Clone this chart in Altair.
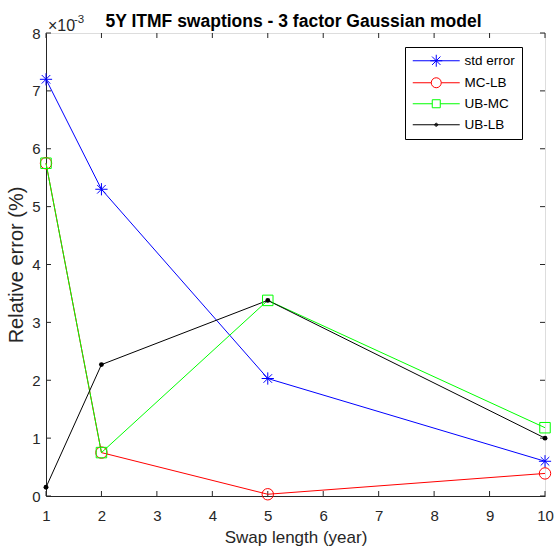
import altair as alt
import pandas as pd

# ---- data (y in absolute units, axis shows x1e-3) ----
swap_length = [1, 2, 5, 10]
series_names = ["std error", "MC-LB", "UB-MC", "UB-LB"]
std_error = [0.00720, 0.00530, 0.00203, 0.00060]
mc_lb = [0.00575, 0.00075, 0.00003, 0.00039]
ub_mc = [0.00575, 0.00075, 0.00338, 0.00118]
ub_lb = [0.00015, 0.00227, 0.00338, 0.00100]
x_ticks = [1, 2, 3, 4, 5, 6, 7, 8, 9, 10]
y_ticks = [0, 0.001, 0.002, 0.003, 0.004, 0.005, 0.006, 0.007, 0.008]
colors = ["#0000FF", "#FF0000", "#00FF00", "#000000"]

rows = []
for name, vals in zip(series_names, [std_error, mc_lb, ub_mc, ub_lb]):
    for x, y in zip(swap_length, vals):
        rows.append({"series": name, "legend_series": name, "x": x, "y": y})
df = pd.DataFrame(rows)

FONT = "Liberation Sans"
AX = "#262626"
W, H = 499, 463

xscale = alt.Scale(domain=[1, 10], nice=False, zero=False)
yscale = alt.Scale(domain=[0, 0.008], nice=False, zero=True)

x_enc = alt.X("x:Q", scale=xscale, axis=alt.Axis(
    values=x_ticks, format="d", title="Swap length (year)", tickSize=0, grid=False,
    labelFontSize=15, labelFont=FONT, labelColor=AX, labelPadding=12,
    titleFontSize=17, titleFont=FONT, titleColor=AX, titleFontWeight="normal",
    titlePadding=6, domainColor=AX, labelFlush=False))
y_enc = alt.Y("y:Q", scale=yscale, axis=alt.Axis(
    values=y_ticks, title="Relative error (%)", tickSize=0, grid=False,
    labelExpr="round(datum.value*1000)",
    labelFontSize=15, labelFont=FONT, labelColor=AX, labelPadding=6,
    titleFontSize=20, titleFont=FONT, titleColor=AX, titleFontWeight="normal",
    titlePadding=5, domainColor=AX))

color_scale = alt.Scale(domain=series_names, range=colors)

lines = alt.Chart(df).mark_line(strokeWidth=1).encode(
    x=x_enc, y=y_enc,
    color=alt.Color("series:N", scale=color_scale, legend=None),
    order=alt.Order("x:Q"),
)

asterisk = "M-1,0H1M0,-1V1M-0.7,-0.7L0.7,0.7M-0.7,0.7L0.7,-0.7"
open_pts = alt.Chart(df).transform_filter(alt.datum.series != "UB-LB").mark_point(
    filled=False, strokeWidth=1, opacity=1).encode(
    x=alt.X("x:Q", scale=xscale), y=alt.Y("y:Q", scale=yscale),
    color=alt.Color("series:N", scale=alt.Scale(domain=series_names[:3], range=colors[:3]), legend=None),
    shape=alt.Shape("series:N", scale=alt.Scale(domain=series_names[:3],
                    range=[asterisk, "circle", "square"]), legend=None),
    size=alt.Size("series:N", scale=alt.Scale(domain=series_names[:3], range=[150, 110, 70]), legend=None),
)
dots = alt.Chart(df).transform_filter(alt.datum.series == "UB-LB").mark_circle(
    size=24, opacity=1, color="#000000").encode(
    x=alt.X("x:Q", scale=xscale), y=alt.Y("y:Q", scale=yscale))

# legend symbols: line + marker, drawn as custom paths (unit = 6 px)
c = 2.917
leg_paths = [
    f"M-1,0H6.83M{c-1},0H{c+1}M{c},-1V1M{c-0.7},-0.7L{c+0.7},0.7M{c-0.7},0.7L{c+0.7},-0.7",
    f"M-1,0H{c-0.833}M{c+0.833},0H6.83M{c-0.833},0A0.833,0.833 0 1,0 {c+0.833},0A0.833,0.833 0 1,0 {c-0.833},0",
    f"M-1,0H{c-0.667}M{c+0.667},0H6.83M{c-0.667},-0.667H{c+0.667}V0.667H{c-0.667}Z",
    f"M-1,0H6.83M{c-0.25},0A0.25,0.25 0 1,0 {c+0.25},0A0.25,0.25 0 1,0 {c-0.25},0M{c-0.12},0A0.12,0.12 0 1,0 {c+0.12},0A0.12,0.12 0 1,0 {c-0.12},0",
]
leg = alt.Legend(title=None, orient="none", legendX=359, legendY=14,
                 padding=7, labelOffset=39, rowPadding=6,
                 labelFont=FONT, labelFontSize=13.5, labelColor="#000000",
                 symbolSize=144, symbolStrokeWidth=1, symbolOpacity=1,
                 symbolFillColor="transparent",
                 strokeColor="#000000", fillColor="#FFFFFF")
legend_layer = alt.Chart(df).mark_point(filled=False, opacity=0).encode(
    x=alt.X("x:Q", scale=xscale), y=alt.Y("y:Q", scale=yscale),
    color=alt.Color("legend_series:N", scale=alt.Scale(domain=series_names, range=colors), legend=leg),
    shape=alt.Shape("legend_series:N", scale=alt.Scale(domain=series_names, range=leg_paths), legend=leg),
)

# inside ticks on all four sides (box on)
xt = pd.DataFrame({"x": x_ticks})
yt = pd.DataFrame({"y": y_ticks})
tick_style = dict(color=AX, strokeWidth=1)
tb = alt.Chart(xt).mark_rule(**tick_style).encode(x=alt.X("x:Q", scale=xscale), y=alt.value(H), y2=alt.value(H - 5))
tt = alt.Chart(xt).mark_rule(**tick_style).encode(x=alt.X("x:Q", scale=xscale), y=alt.value(0), y2=alt.value(5))
tl = alt.Chart(yt).mark_rule(**tick_style).encode(y=alt.Y("y:Q", scale=yscale), x=alt.value(0), x2=alt.value(5))
tr = alt.Chart(yt).mark_rule(**tick_style).encode(y=alt.Y("y:Q", scale=yscale), x=alt.value(W), x2=alt.value(W - 5))

# exponent label above the y axis
exp_base = alt.Chart(pd.DataFrame({"t": ["\u00d710"]})).mark_text(
    align="left", baseline="alphabetic", dx=2, dy=-2, font=FONT, fontSize=16, color=AX).encode(
    x=alt.datum(1), y=alt.datum(0.008), text="t:N")
exp_sup = alt.Chart(pd.DataFrame({"t": ["-3"]})).mark_text(
    align="left", baseline="alphabetic", dx=28, dy=-10, font=FONT, fontSize=11.5, color=AX).encode(
    x=alt.datum(1), y=alt.datum(0.008), text="t:N")

chart = alt.layer(
    tb, tt, tl, tr, lines, open_pts, dots, legend_layer, exp_base, exp_sup
).resolve_scale(
    color="independent", shape="independent", size="independent"
).properties(
    width=W, height=H,
    title=alt.TitleParams("5Y ITMF swaptions - 3 factor Gaussian model", font=FONT,
                          fontSize=17.5, fontWeight="bold", color="#000000",
                          anchor="middle", offset=6, dy=22, dx=-2),
    autosize=alt.AutoSizeParams(type="none"),
    padding={"left": 46, "top": 33, "right": 9, "bottom": 58},
).configure_view(stroke=AX, strokeWidth=1).configure(background="white")

chart.save("out.html", embed_options={"renderer": "svg", "actions": False})
